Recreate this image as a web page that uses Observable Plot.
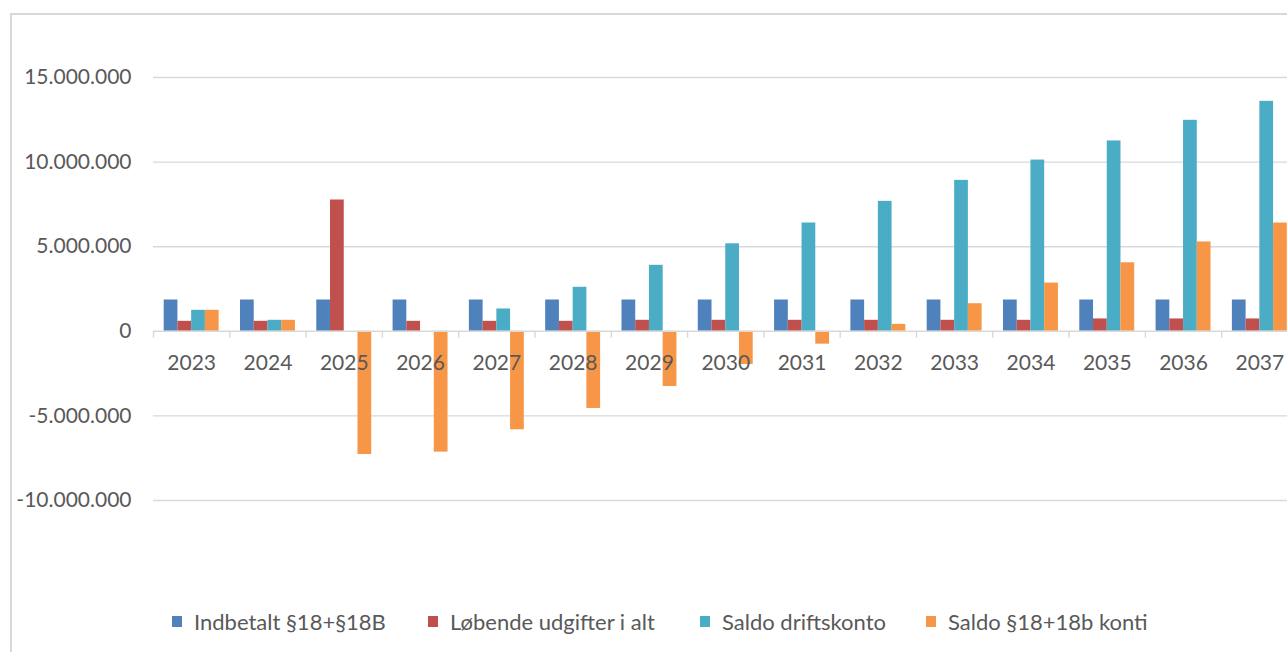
<!DOCTYPE html>
<html>
<head>
<meta charset="utf-8">
<script src="https://cdn.jsdelivr.net/npm/d3@7"></script>
<script src="https://cdn.jsdelivr.net/npm/@observablehq/plot@0.6"></script>
<style>
  html, body { margin: 0; padding: 0; overflow: hidden; background: #fff; }
  #chart { position: relative; width: 1287px; height: 652px; overflow: hidden; font-family: Lato, "Open Sans", sans-serif; color: #595959; }
  #frame { position: absolute; left: 10px; top: 13px; width: 1400px; height: 800px; border: 2px solid #d9d9d9; box-sizing: border-box; }
  #plot { position: absolute; left: 0; top: 0; }
  #legend { position: absolute; left: 0; top: 607px; width: 1287px; height: 28px; font-size: 22px; white-space: nowrap; }
  .item { position: absolute; top: 0; display: flex; align-items: center; height: 28px; }
  .sw { width: 10px; height: 11px; margin-right: 12px; }
</style>
</head>
<body>
<div id="chart">
  <div id="frame"></div>
  <div id="plot"></div>
  <div id="legend"></div>
</div>
<script>
// Years on the category axis
const years = ["2023", "2024", "2025", "2026", "2027", "2028", "2029", "2030",
               "2031", "2032", "2033", "2034", "2035", "2036", "2037"];

// Series (kr.)
const indbetalt  = [1850000, 1850000, 1850000, 1850000, 1850000, 1850000, 1850000, 1850000,
                    1850000, 1850000, 1850000, 1850000, 1850000, 1850000, 1850000];
const loebende   = [590000, 590000, 7760000, 590000, 590000, 590000, 650000, 650000,
                    650000, 650000, 650000, 650000, 730000, 730000, 730000];
const saldoDrift = [1240000, 650000, 0, 0, 1320000, 2600000, 3900000, 5170000,
                    6400000, 7680000, 8920000, 10120000, 11250000, 12470000, 13590000];
const saldoKonti = [1240000, 650000, -7280000, -7140000, -5820000, -4560000, -3260000, -1960000,
                    -760000, 410000, 1630000, 2850000, 4050000, 5280000, 6400000];

const seriesNames = ["Indbetalt §18+§18B", "Løbende udgifter i alt", "Saldo driftskonto", "Saldo §18+18b konti"];
const seriesValues = [indbetalt, loebende, saldoDrift, saldoKonti];
const seriesColors = ["#4F81BD", "#C0504D", "#4BACC6", "#F79646"];

// Value axis ticks
const yTicks = [-10000000, -5000000, 0, 5000000, 10000000, 15000000];

// Danish number format: 15.000.000
const dk = d3.formatLocale({decimal: ",", thousands: ".", grouping: [3], currency: ["", " kr."], minus: "-"});
const fmt = dk.format(",.0f");

// Each year gets a slot of width 1 centred on its index; the bar group fills part of it
const groupWidth = 0.72;
const barWidth = groupWidth / seriesNames.length;

const rows = years.flatMap((year, i) => seriesNames.map((name, j) => ({
  year, i, name, value: seriesValues[j][i],
  x1: i - groupWidth / 2 + j * barWidth,
  x2: i - groupWidth / 2 + (j + 1) * barWidth
})));

// Category boundaries (tick marks on the zero line)
const boundaries = d3.range(years.length + 1).map(k => k - 0.5);

const chart = Plot.plot({
  width: 1300,
  height: 520,
  marginLeft: 153,
  marginRight: 2.5,
  marginTop: 77,
  marginBottom: 20,
  style: {fontFamily: "Lato, 'Open Sans', sans-serif", fontSize: "21px", color: "#595959", background: "transparent", maxWidth: "none", overflow: "visible"},
  x: {type: "linear", domain: [-0.5, years.length - 0.5], axis: null},
  y: {domain: [-10000000, 15000000], axis: null},
  color: {domain: seriesNames, range: seriesColors},
  marks: [
    Plot.ruleY(yTicks.filter(v => v !== 0), {stroke: "#d9d9d9", strokeWidth: 1.4, strokeOpacity: 1}),
    Plot.rectY(rows, {x1: "x1", x2: "x2", y1: 0, y2: "value", fill: "name"}),
    Plot.ruleY([0], {stroke: "#d9d9d9", strokeWidth: 1.6, strokeOpacity: 1}),
    Plot.ruleX(boundaries, {x: d => d, y1: 0, y2: 0, insetBottom: -7, stroke: "#d9d9d9", strokeWidth: 1.4, strokeOpacity: 1}),
    Plot.text(years, {x: (d, i) => i, y: 0, text: d => d, dy: 32, fill: "#595959"}),
    Plot.axisY(yTicks, {tickFormat: fmt, tickSize: 0, tickPadding: 22, label: null, fill: "#595959", stroke: null})
  ]
});
document.getElementById("plot").appendChild(chart);

// Legend below the plot
const legendLeft = [172, 428, 700, 926];
const legend = document.getElementById("legend");
seriesNames.forEach((name, j) => {
  const item = document.createElement("div");
  item.className = "item";
  item.style.left = legendLeft[j] + "px";
  const sw = document.createElement("span");
  sw.className = "sw";
  sw.style.background = seriesColors[j];
  const label = document.createElement("span");
  label.textContent = name;
  item.appendChild(sw);
  item.appendChild(label);
  legend.appendChild(item);
});
</script>
</body>
</html>
